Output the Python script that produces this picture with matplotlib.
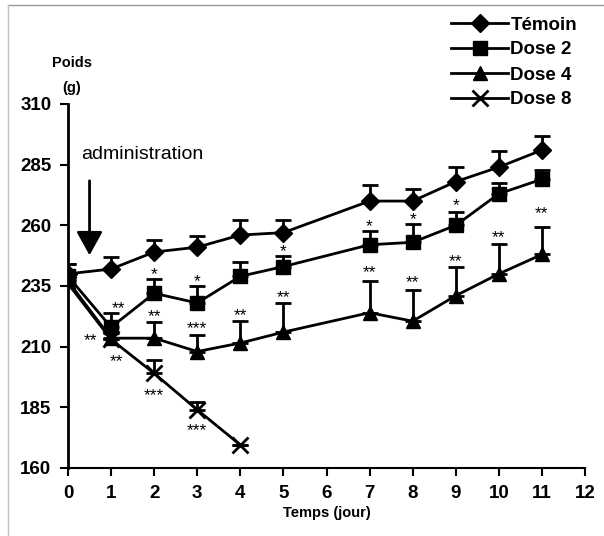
import numpy as np
import matplotlib.pyplot as plt
from matplotlib.lines import Line2D

# Data
days = [0, 1, 2, 3, 4, 5, 7, 8, 9, 10, 11]
temoin = [240, 242, 249, 251, 256, 257, 270, 270, 278, 284, 291]
temoin_err = [4, 5, 5, 4.5, 6, 5, 6.5, 5, 6, 6.5, 6]
dose2 = [239, 218, 232, 228, 239, 243, 252, 253, 260, 273, 279]
dose2_err = [5, 6, 6, 7, 6, 4.5, 5.5, 7.5, 5.5, 4.5, 4]
dose4 = [237, 213.5, 213.5, 208, 211.5, 216, 224, 220.5, 231, 240, 248]
dose4_err = [3, 2, 6.5, 7, 9, 12, 13, 13, 12, 12.5, 11.5]
days8 = [0, 1, 2, 3, 4]
dose8 = [236, 213, 199, 184, 169.5]
dose8_err = [2, 0, 5.5, 3, 0]

yticks = [160, 185, 210, 235, 260, 285, 310]
xticks = list(range(13))

# significance marks: (series, day, text, dx px, dy px) relative to top of error bar
stars = [
    ('Dose 2', 1, '**', 7, 0), ('Dose 2', 2, '*', 0, 0), ('Dose 2', 3, '*', 0, 0),
    ('Dose 2', 5, '*', 0, 0), ('Dose 2', 7, '*', 0, 0), ('Dose 2', 8, '*', 0, 0),
    ('Dose 2', 9, '*', 0, 2),
    ('Dose 4', 2, '**', 0, 1), ('Dose 4', 3, '***', 0, 1), ('Dose 4', 4, '**', 0, 1),
    ('Dose 4', 5, '**', 0, 1), ('Dose 4', 7, '**', 0, 4), ('Dose 4', 8, '**', 0, 3),
    ('Dose 4', 9, '**', 0, 0), ('Dose 4', 10, '**', 0, 1), ('Dose 4', 11, '**', 0, 8),
]
# marks placed relative to the point itself
stars_pt = [
    ('Dose 4', 1, '**', -21, -7),
    ('Dose 8', 1, '**', 5, -27),
    ('Dose 8', 2, '***', 0, -27),
    ('Dose 8', 3, '***', 0, -25),
]

plt.rcParams['font.family'] = ['Liberation Sans', 'DejaVu Sans']

fig = plt.figure(figsize=(6.04, 5.36), dpi=100)
ax = fig.add_axes([68/604, 68/536, 517/604, 364/536])

series = {
    'Témoin': (days, temoin, temoin_err, 'D', 9.5),
    'Dose 2': (days, dose2, dose2_err, 's', 9.5),
    'Dose 4': (days, dose4, dose4_err, '^', 10.5),
    'Dose 8': (days8, dose8, dose8_err, 'x', 11),
}

handles = []
for name, (x, y, e, m, ms) in series.items():
    ax.errorbar(x, y, yerr=[np.zeros(len(e)), e], fmt='none', ecolor='black',
                elinewidth=2, capsize=6, capthick=2, zorder=2)
    h, = ax.plot(x, y, color='black', lw=2, marker=m, markersize=ms,
                 markeredgewidth=2 if m == 'x' else 1, zorder=3, label=name)
    handles.append(h)

for name, d, txt, dx, dy in stars:
    x, y, e, _, _ = series[name]
    i = list(x).index(d)
    ax.annotate(txt, (d, y[i] + e[i]), xytext=(dx, dy), textcoords='offset pixels',
                ha='center', va='baseline', fontsize=12.5)
for name, d, txt, dx, dy in stars_pt:
    x, y, e, _, _ = series[name]
    i = list(x).index(d)
    ax.annotate(txt, (d, y[i]), xytext=(dx, dy), textcoords='offset pixels',
                ha='center', va='baseline', fontsize=12.5)

# administration arrow
ax.annotate('', xy=(0.5, 246.5), xytext=(0.5, 279.5),
            arrowprops=dict(arrowstyle='-|>,head_width=0.8,head_length=1.45',
                            mutation_scale=10, color='black', lw=2))
ax.text(0.3, 289, 'administration', fontsize=14, ha='left', va='center')

ax.set_xlim(0, 12)
ax.set_ylim(160, 310)
ax.set_xticks(xticks)
ax.set_yticks(yticks)
ax.tick_params(axis='both', direction='out', length=6, width=1.5, labelsize=13.5, pad=6)
for lab in ax.get_xticklabels() + ax.get_yticklabels():
    lab.set_fontweight('bold')
for s in ['top', 'right']:
    ax.spines[s].set_visible(False)
ax.spines['left'].set_linewidth(2)
ax.spines['bottom'].set_linewidth(1.5)
ax.spines['left'].set_bounds(160, 310)

ax.set_xlabel('Temps (jour)', fontsize=10.5, fontweight='bold', labelpad=3)
fig.text(72/604, 1 - 63/536, 'Poids', fontsize=10.5, fontweight='bold', ha='center', va='center')
fig.text(72/604, 1 - 88/536, '(g)', fontsize=10.5, fontweight='bold', ha='center', va='center')

leg = fig.legend(handles=handles, loc='upper left', bbox_to_anchor=(442/604, 1 - 7/536),
                 frameon=False, borderpad=0, handlelength=3.0, handletextpad=0.15,
                 labelspacing=0.42, prop={'weight': 'bold', 'size': 13.5})

# scan border lines
fig.add_artist(Line2D([8/604, 1], [1 - 5/536, 1 - 5/536], color='0.6', lw=1))
fig.add_artist(Line2D([8/604, 8/604], [0, 1 - 5/536], color='0.75', lw=1))

fig.savefig('out.png', dpi=100)
